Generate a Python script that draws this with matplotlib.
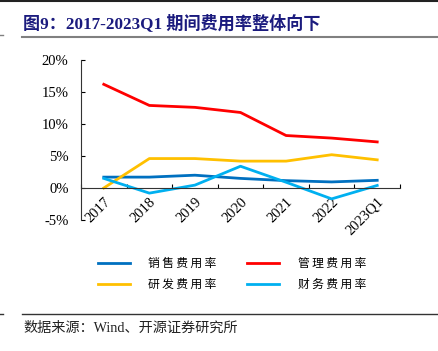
import matplotlib.pyplot as plt
from matplotlib.lines import Line2D
import numpy as np

plt.rcParams['font.family'] = ['Liberation Serif', 'Noto Sans CJK SC']

# Data
categories = ["2017", "2018", "2019", "2020", "2021", "2022", "2023Q1"]
sales = [1.7, 1.7, 2.0, 1.5, 1.15, 0.95, 1.2]
admin = [16.2, 12.9, 12.6, 11.8, 8.2, 7.8, 7.2]
rnd = [0.0, 4.6, 4.6, 4.2, 4.2, 5.2, 4.4]
finance = [1.5, -0.8, 0.45, 3.4, 0.9, -1.7, 0.4]
y_ticks = [-5, 0, 5, 10, 15, 20]


def spaced(s):
    # the reference sets CJK legend text with a little tracking
    return "\u2009".join(s)


W, H = 438, 351
fig = plt.figure(figsize=(W / 100, H / 100), dpi=100, facecolor="white")
ax = fig.add_axes([81 / W, 1 - 220 / H, 319 / W, 160 / H])

x = np.arange(len(categories))
lw = 2.0
l1, = ax.plot(x, sales, color="#0070C0", lw=lw, label=spaced("销售费用率"))
l2, = ax.plot(x, admin, color="#FF0000", lw=lw, label=spaced("管理费用率"))
l3, = ax.plot(x, rnd, color="#FFC000", lw=lw, label=spaced("研发费用率"))
l4, = ax.plot(x, finance, color="#00B0F0", lw=lw, label=spaced("财务费用率"))

ax.set_xlim(-0.5, len(categories) - 0.5)
ax.set_ylim(-5, 20)
ax.set_yticks(y_ticks)
ax.set_yticklabels([f"{v}%" for v in y_ticks], fontsize=10.5)
ax.tick_params(axis="y", direction="in", length=3, width=0.8, pad=9)

ax.spines["top"].set_visible(False)
ax.spines["right"].set_visible(False)
ax.spines["bottom"].set_position(("data", 0))
for s in ("left", "bottom"):
    ax.spines[s].set_linewidth(0.8)
    ax.spines[s].set_color("#333333")

ax.set_xticks(x)
ax.set_xticklabels(categories, fontsize=10.5, rotation=45, ha="right",
                   rotation_mode="anchor")
ax.tick_params(axis="x", which="major", length=0, pad=5)
ax.set_xticks(np.arange(len(categories) + 1) - 0.5, minor=True)
ax.tick_params(axis="x", which="minor", direction="in", length=3, width=0.8)

fig.legend(handles=[l1, l3, l2, l4], ncol=2, frameon=False,
           loc="center", bbox_to_anchor=(232 / W, 1 - 274 / H),
           prop={"family": ["Noto Sans CJK SC", "DejaVu Sans"], "size": 8.5},
           handlelength=2.7, columnspacing=2.6, handletextpad=1.6,
           labelspacing=0.7)

# title and frame lines
fig.text(23 / W, 1 - 23 / H, "图9：2017-2023Q1 期间费用率整体向下",
         fontsize=12.3, fontweight="bold", color="#1B1B7E", va="center")
fig.add_artist(Line2D([0, 1], [1 - 1 / H, 1 - 1 / H], transform=fig.transFigure,
                      color="#222222", lw=1.5))
fig.add_artist(Line2D([22 / W, 1], [1 - 37 / H, 1 - 37 / H],
                      transform=fig.transFigure, color="#808080", lw=1.5))
fig.add_artist(Line2D([0, 3 / W], [1 - 35 / H, 1 - 35 / H],
                      transform=fig.transFigure, color="#808080", lw=1))
fig.add_artist(Line2D([22 / W, 1], [1 - 314 / H, 1 - 314 / H],
                      transform=fig.transFigure, color="#333333", lw=1))
fig.add_artist(Line2D([0, 3 / W], [1 - 314 / H, 1 - 314 / H],
                      transform=fig.transFigure, color="#333333", lw=1))
fig.text(23 / W, 1 - 328 / H, "数据来源：Wind、开源证券研究所",
         fontsize=10.2, color="#222222", va="center")

fig.savefig("out.png", dpi=100, facecolor="white")
